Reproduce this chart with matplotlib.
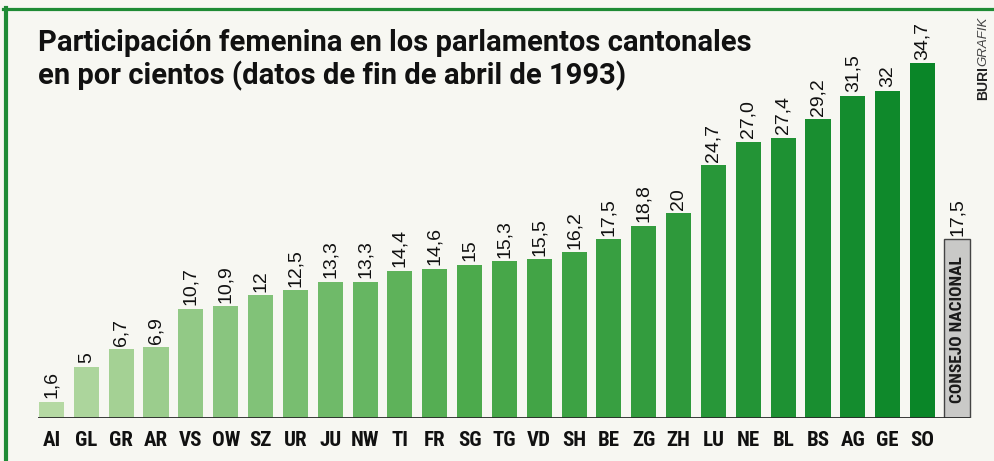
import matplotlib
matplotlib.use("Agg")
import matplotlib.pyplot as plt
from matplotlib import font_manager
from matplotlib.lines import Line2D
from matplotlib.colors import to_rgb
import numpy as np

# ---------------- data ----------------
cantons = ["AI", "GL", "GR", "AR", "VS", "OW", "SZ", "UR", "JU", "NW", "TI", "FR", "SG",
           "TG", "VD", "SH", "BE", "ZG", "ZH", "LU", "NE", "BL", "BS", "AG", "GE", "SO"]
values = [1.6, 5, 6.7, 6.9, 10.7, 10.9, 12, 12.5, 13.3, 13.3, 14.4, 14.6, 15,
          15.3, 15.5, 16.2, 17.5, 18.8, 20, 24.7, 27.0, 27.4, 29.2, 31.5, 32, 34.7]
value_labels = ["1,6", "5", "6,7", "6,9", "10,7", "10,9", "12", "12,5", "13,3", "13,3",
                "14,4", "14,6", "15", "15,3", "15,5", "16,2", "17,5", "18,8", "20",
                "24,7", "27,0", "27,4", "29,2", "31,5", "32", "34,7"]
national_name = "CONSEJO NACIONAL"
national_value = 17.5
national_label = "17,5"
title = ("Participación femenina en los parlamentos cantonales\n"
         "en por cientos (datos de fin de abril de 1993)")

# ---------------- fonts ----------------
names = {f.name for f in font_manager.fontManager.ttflist}
cond = next((n for n in ["Liberation Sans Narrow", "DejaVu Sans Condensed",
                         "Roboto Condensed", "Open Sans Condensed"] if n in names),
            "Liberation Sans")
sans = "Liberation Sans" if "Liberation Sans" in names else "DejaVu Sans"
title_font = "Roboto" if "Roboto" in names else sans

W, H = 995, 461
fig = plt.figure(figsize=(W / 100, H / 100), dpi=100, facecolor="#f7f7f2")

pitch = 34.84
x0_px = 51.5
xl, xr = -0.6, 26.6
left_px = x0_px + xl * pitch
right_px = x0_px + xr * pitch
base_px, top_px = 418, 20
ppu = 10.23
ax = fig.add_axes([left_px / W, (H - base_px) / H, (right_px - left_px) / W,
                   (base_px - top_px) / H])
ax.set_xlim(xl, xr)
ax.set_ylim(0, (base_px - top_px) / ppu)
ax.axis("off")

# colour ramp (light -> mid -> dark)
stops = [0.0, 0.48, 1.0]
stop_cols = np.array([to_rgb(c) for c in ["#b5d9a3", "#4caa4c", "#0a8628"]])
n = len(cantons)
x = np.arange(n)
tt = np.linspace(0, 1, n)
colors = [tuple(np.interp(t, stops, stop_cols[:, k]) for k in range(3)) for t in tt]
bw = 0.72

ax.bar(x, values, width=bw, color=colors, zorder=2)
for xi, v, lab, c in zip(x, values, value_labels, cantons):
    ax.annotate(lab, (xi, v), xytext=(0, 2.5), textcoords="offset points",
                rotation=90, ha="center", va="bottom", fontsize=14,
                family=sans, color="#111111")
    ax.annotate(c, (xi, 0), xytext=(0, -9), textcoords="offset points",
                ha="center", va="top", fontsize=15, family=cond,
                fontweight="bold", color="#111111")

# national council bar
xn = n
ax.bar([xn], [national_value], width=0.75, color="#c9c9c7", edgecolor="#444444",
       linewidth=1.0, zorder=2)
ax.annotate(national_label, (xn, national_value), xytext=(0, 2.5),
            textcoords="offset points", rotation=90, ha="center", va="bottom",
            fontsize=14, family=sans, color="#111111")
ax.annotate(national_name, (xn, 0), xytext=(0, 11), textcoords="offset points",
            rotation=90, ha="center", va="bottom", fontsize=12.5, family=cond,
            fontweight="bold", color="#1a1a1a")

# baseline
ax.plot([-0.39, xn + 0.375], [0, 0], color="#2a2a2a", lw=1.3, zorder=3,
        solid_capstyle="butt")

# title
fig.text(38 / W, 1 - 29 / H, title, ha="left", va="top", fontsize=21,
         family=title_font, fontweight="bold", color="#111111", linespacing=1.17)

# credit
t1 = fig.text(983 / W, 1 - 100 / H, "BURI", rotation=90, ha="center", va="bottom",
              fontsize=10, family=sans, fontweight="bold", color="#222222")
fig.add_artist(plt.Annotation("GRAFIK", xy=(0.5, 1.0), xycoords=t1,
                              ha="center", va="bottom", rotation=90, fontsize=9.5,
                              family=sans, style="italic", color="#444444"))

# frame lines
fig.add_artist(Line2D([3 / W, 1], [1 - 9.5 / H, 1 - 9.5 / H], color="#1f8b35",
                      lw=2.3, transform=fig.transFigure))
fig.add_artist(Line2D([5.5 / W, 5.5 / W], [0, 1 - 8 / H], color="#1f8b35",
                      lw=3.0, transform=fig.transFigure))

fig.savefig("out.png", dpi=100, facecolor=fig.get_facecolor())
